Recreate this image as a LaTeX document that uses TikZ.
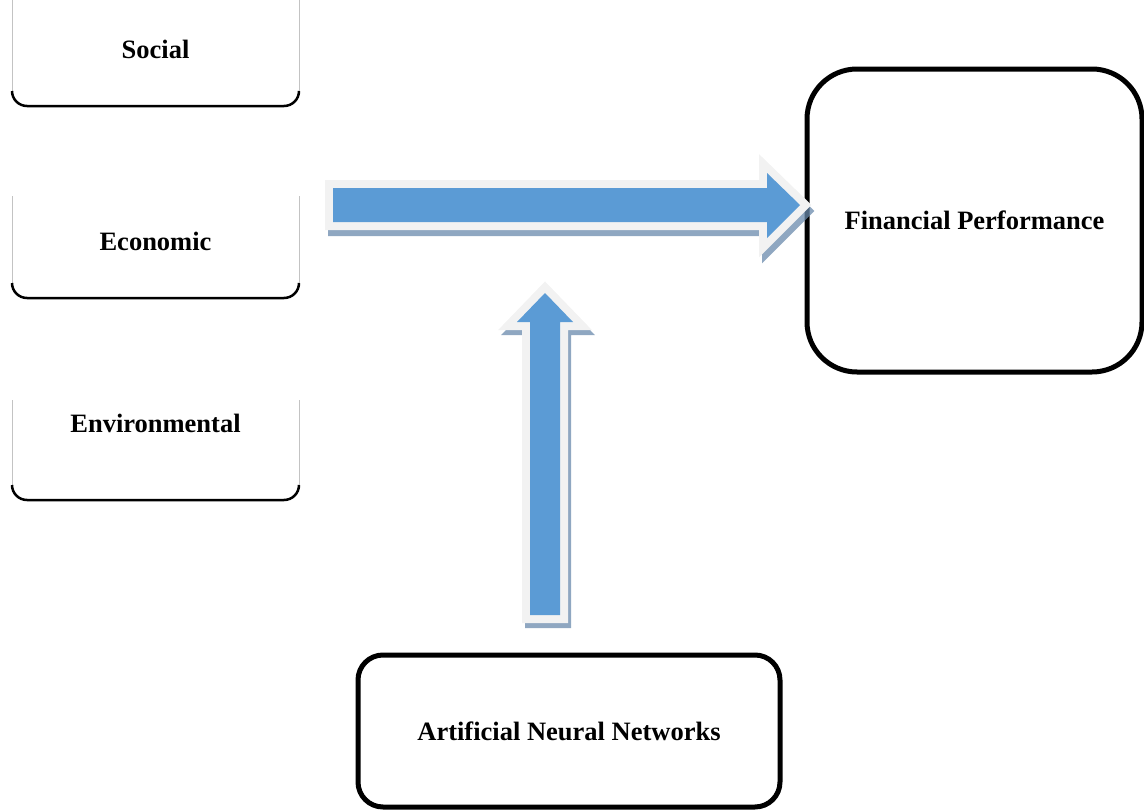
\documentclass[tikz,border=0pt]{standalone}
\usepackage{fontspec}
\setmainfont{Liberation Serif}
\usepackage{tikz}
\usetikzlibrary{positioning, shapes}
\definecolor{arrowblue}{RGB}{91,155,213}
\definecolor{rimgray}{RGB}{242,242,242}
\definecolor{shadowblue}{RGB}{106,138,172}
\definecolor{sidegray}{RGB}{195,195,195}

\tikzset{
	label/.style={font=\fontsize{26.5}{30}\selectfont\bfseries, inner sep=0pt},
	sideline/.style={draw=sidegray, line width=1pt},
	footline/.style={draw=black, line width=2.5pt, rounded corners=15pt},
	target/.style={draw=black, line width=5pt, rounded corners=#1, label},
	arrowshadow/.style={draw=shadowblue, fill=shadowblue, line width=16pt, miter limit=10, opacity=0.75},
	arrowrim/.style={draw=rimgray, line width=16pt, miter limit=10},
	arrowbody/.style={fill=arrowblue}
}

\begin{document}
\begin{tikzpicture}[x=1pt, y=-1pt]

\useasboundingbox (0,0) rectangle (1144,811);

\def \xl{12}
\def \xr{299}

% left factors: label y, top y, bottom y
\node[label] (social)        at (155.5,  49) {Social};
\node[label] (economic)      at (155.5, 241) {Economic};
\node[label] (environmental) at (155.5, 423) {Environmental};

\foreach \ytop/\ybot in {-5/106, 196/298, 400/500} {
	\draw[sideline] (\xl, \ytop) -- (\xl, \ybot-15); % left side
	\draw[sideline] (\xr, \ytop) -- (\xr, \ybot-15); % right side
	\draw[footline] (\xl, \ybot-15) -- (\xl, \ybot) -- (\xr, \ybot) -- (\xr, \ybot-15); % bottom
}

\node[target=50pt, minimum width=335pt, minimum height=303pt] (fin) at (974.5, 220.5) {Financial Performance};
\node[target=25pt, minimum width=422pt, minimum height=152pt] (ann) at (569, 731) {Artificial Neural Networks};

% block arrows
\def \harrow{(333,188) -- (767,188) -- (767,173) -- (800,205) -- (767,238) -- (767,222) -- (333,222) -- cycle}
\def \varrow{(530,615) -- (530,322) -- (517,322) -- (545,293) -- (573,322) -- (560,322) -- (560,615) -- cycle}

\path[arrowshadow, shift={(3,6)}] \harrow; % shadow
\path[arrowrim] \harrow;
\path[arrowbody] \harrow;

\path[arrowshadow, shift={(3,5)}] \varrow; % shadow
\path[arrowrim] \varrow;
\path[arrowbody] \varrow;

\end{tikzpicture}
\end{document}
